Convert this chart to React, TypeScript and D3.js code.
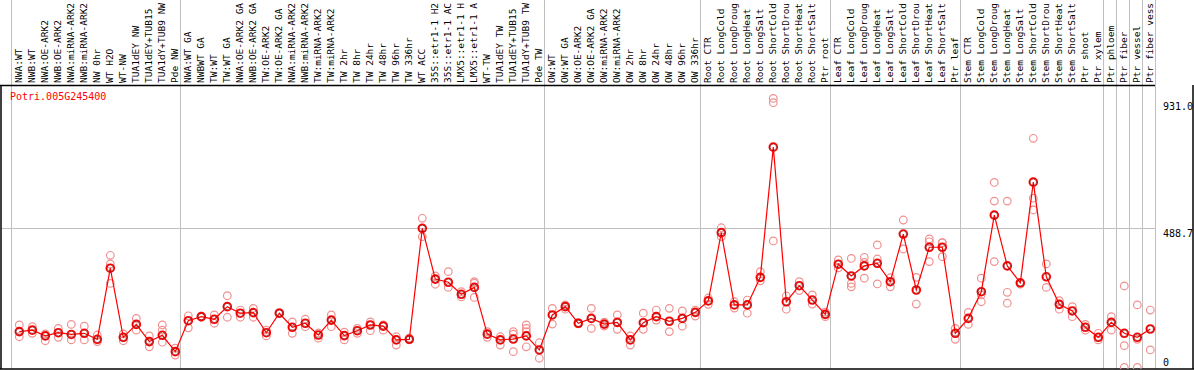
import React from "react";
import * as d3 from "d3";

const title = "Potri.005G245400";

const categories = [
  "NWA:WT","NWB:WT","NWA:OE-ARK2","NWB:OE-ARK2","NWA:miRNA-ARK2","NWB:miRNA-ARK2","NW 0hr","WT H2O","WT-NW","TUA1dEY NW","TUA1dEY+TUB15 NW","TUA1dY+TUB9 NW","Pde NW",
  "NWA:WT GA","NWBWT GA","TW:WT","TW:WT GA","NWA:OE-ARK2 GA","NWB:OE-ARK2 GA","TW:OE-ARK2","TW:OE-ARK2 GA","NWA:miRNA-ARK2","NWB:miRNA-ARK2","TW:miRNA-ARK2","TW:miRNA-ARK2","TW 2hr","TW 8hr","TW 24hr","TW 48hr","TW 96hr","TW 336hr","WT ACC","35S::etr1-1 H2O","35S::etr1-1 ACC","LMX5::etr1-1 H2O","LMX5::etr1-1 ACC","WT-TW","TUA1dEY TW","TUA1dEY+TUB15 TW","TUA1dY+TUB9 TW","Pde TW",
  "OW:WT","OW:WT GA","OW:OE-ARK2","OW:OE-ARK2 GA","OW:miRNA-ARK2","OW:miRNA-ARK2","OW 2hr","OW 8hr","OW 24hr","OW 48hr","OW 96hr","OW 336hr",
  "Root CTR","Root LongCold","Root LongDrought","Root LongHeat","Root LongSalt","Root ShortCold","Root ShortDrought","Root ShortHeat","Root ShortSalt","Ptr root",
  "Leaf CTR","Leaf LongCold","Leaf LongDrought","Leaf LongHeat","Leaf LongSalt","Leaf ShortCold","Leaf ShortDrought","Leaf ShortHeat","Leaf ShortSalt","Ptr leaf",
  "Stem CTR","Stem LongCold","Stem LongDrought","Stem LongHeat","Stem LongSalt","Stem ShortCold","Stem ShortDrought","Stem ShortHeat","Stem ShortSalt","Ptr shoot",
  "Ptr xylem","Ptr phloem","Ptr fiber","Ptr vessel","Ptr fiber vessel"
];

const means = [
  127,132,112,123,117,121,100,348,107,152,92,114,57,
  165,179,170,214,191,193,123,191,142,156,115,167,113,130,150,146,98,100,487,310,299,257,281,118,98,101,112,63,
  185,214,156,173,153,159,98,158,179,163,173,194,
  234,472,220,220,316,770,231,287,237,187,
  362,321,356,365,301,467,272,421,421,121,
  173,266,533,356,297,648,318,222,199,142,
  107,159,121,107,136
];

const replicates = [
  [150,109],[144,121],[119,95],[138,107],[152,98],[146,98],[115,92],[393,363,295],[119,95],[173,132],[112,74],[150,132,90],[69,45],
  [182,140],[181,177],[185,156],[252,177],[202,177],[208,177],[132,112],[193,190],[161,121],[170,144],[104,122],[185,144],[98,125],[138,121],[161,130],[150,132],[109,80],[104,98],[522,458],[321,292],[336,281],[266,248],[301,296,246],[127,107],[109,80],[127,118,57],[150,138,127,74],[88,34],
  [208,153],[205,220],[158,154],[208,138],[146,160],[185,135],[112,80],[191,135],[202,167],[208,127],[199,146],[202,181],
  [222,244],[489,458],[231,209],[237,191],[336,304],[940,925,443],[251,205],[301,270],[255,223],[179,195],
  [377,349],[382,295,283],[386,313,368],[429,380,293],[315,283],[516,415],[316,223],[450,440,371],[437,388,437],[138,100],
  [194,152],[313,255,231],[647,582,371],[582,264,226],[297,292],[801,592,551],[363,281],[235,205],[214,179],[152,132],
  [121,98],[179,132],[286,78,2],[220,2,100],[202,63]
];

const groupEnds = [-1, 12, 40, 52, 62, 72, 83, 84, 85, 86, 87];

const yTicks = [931.0, 488.7, 0];
const gridValues = [488.7];

const W = 1194;
const H = 370;
const plotLeft = 1;
const plotRight = 1155;
const plotTop = 85;
const plotBottom = 369;
const maxLabelChars = 14;

export default function App() {
  const n = categories.length;
  const x = d3.scaleLinear().domain([0, n - 1]).range([19.3, 1150.3]);
  const y = d3.scaleLinear().domain([0, 931]).range([368, 101]);
  const line = d3
    .line<number>()
    .x((_, i) => x(i))
    .y((d) => y(d));
  const mono = "'DejaVu Sans Mono', monospace";

  return (
    <svg
      width={W}
      height={H}
      style={{ position: "absolute", left: 0, top: 0, background: "#fff" }}
    >
      <defs>
        <clipPath id="plotClip">
          <rect x={plotLeft} y={plotTop} width={plotRight - plotLeft} height={plotBottom - plotTop} />
        </clipPath>
      </defs>
      {/* vertical separators */}
      {groupEnds.map((g) => (
        <line
          key={"sep" + g}
          x1={Math.round(x(g) + 4.7) + 0.5}
          x2={Math.round(x(g) + 4.7) + 0.5}
          y1={0}
          y2={plotBottom}
          stroke="#c0c0c0"
          strokeWidth={1}
        />
      ))}
      {/* horizontal grid */}
      {gridValues.map((v) => (
        <line
          key={"g" + v}
          x1={plotLeft}
          x2={plotRight}
          y1={Math.round(y(v)) + 0.5}
          y2={Math.round(y(v)) + 0.5}
          stroke="#c0c0c0"
          strokeWidth={1}
        />
      ))}
      {/* category labels */}
      {categories.map((c, i) => (
        <text
          key={"c" + i}
          transform={`translate(${x(i) + 3},${plotTop - 2}) rotate(-90)`}
          fontFamily={mono}
          fontSize={9.5}
          fill="#000"
        >
          {c.slice(0, maxLabelChars).trimEnd()}
        </text>
      ))}
      {/* frame */}
      <line x1={0} x2={plotRight} y1={plotTop + 0.5} y2={plotTop + 0.5} stroke="#000" strokeWidth={1.5} />
      <line x1={1} x2={1} y1={plotTop} y2={plotBottom} stroke="#000" strokeWidth={1.5} />
      <line x1={0} x2={W} y1={plotBottom} y2={plotBottom} stroke="#000" strokeWidth={1.5} />
      <line x1={W - 1} x2={W - 1} y1={plotTop} y2={plotBottom} stroke="#000" strokeWidth={1.5} />
      {/* title */}
      <text x={10} y={100} fontFamily={mono} fontSize={10} fill="#ff0000">
        {title}
      </text>
      {/* y labels */}
      {yTicks.map((v) => (
        <text
          key={"t" + v}
          x={1163}
          y={Math.min(y(v) + 8.8, 366)}
          fontFamily={mono}
          fontSize={10}
          fill="#000"
        >
          {v === 0 ? "0" : v.toFixed(1)}
        </text>
      ))}
      <g clipPath="url(#plotClip)">
        {replicates.map((reps, i) =>
          reps.map((r, j) => (
            <circle
              key={`r${i}-${j}`}
              cx={x(i)}
              cy={y(r)}
              r={3.8}
              fill="none"
              stroke="#f09090"
              strokeWidth={1.2}
            />
          ))
        )}
        <path d={line(means) || ""} fill="none" stroke="#ff0000" strokeWidth={1.2} />
        {means.map((m, i) => (
          <g key={"m" + i}>
            <circle cx={x(i)} cy={y(m)} r={4} fill="none" stroke="#ff0000" strokeWidth={1.6} />
            <circle cx={x(i)} cy={y(m)} r={3.2} fill="none" stroke="#700000" strokeWidth={0.6} />
          </g>
        ))}
      </g>
    </svg>
  );
}
